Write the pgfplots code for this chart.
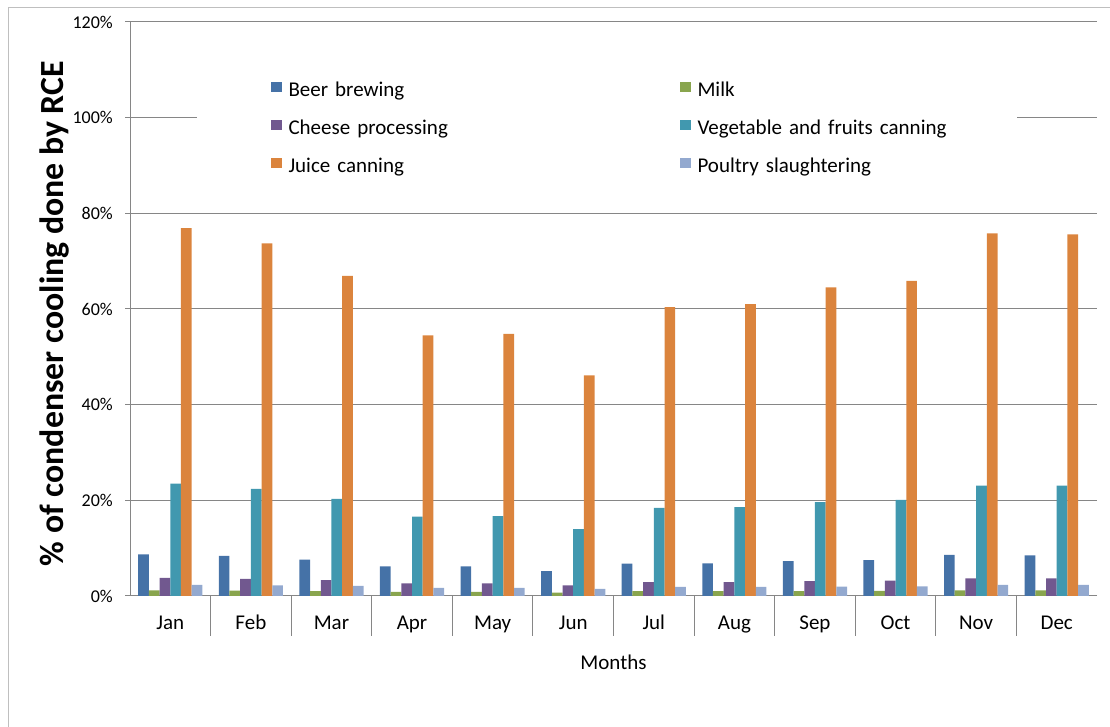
\documentclass[border=0pt]{standalone}
\usepackage{fontspec}
\setmainfont{Carlito}
\usepackage{pgfplots}
\pgfplotsset{compat=1.18}
\usepackage{pgfplotstable}

\definecolor{beer}{HTML}{4572A7}
\definecolor{milk}{HTML}{89A54E}
\definecolor{cheese}{HTML}{71588F}
\definecolor{veg}{HTML}{4198AF}
\definecolor{juice}{HTML}{DB843D}
\definecolor{poultry}{HTML}{93A9CF}
\definecolor{axgray}{HTML}{868686}
\definecolor{framegray}{HTML}{BFBFBF}

% Share of condenser cooling covered by RCE, in percent, per month (0 = Jan)
\pgfplotstableread{
m  beer  milk  cheese veg   juice poultry
0  8.7   1.15  3.8    23.5  76.9  2.3
1  8.4   1.1   3.6    22.4  73.7  2.2
2  7.6   1.0   3.3    20.3  66.9  2.1
3  6.2   0.85  2.65   16.6  54.5  1.7
4  6.2   0.85  2.65   16.7  54.8  1.7
5  5.2   0.7   2.2    14.0  46.1  1.5
6  6.75  1.0   2.9    18.4  60.4  1.9
7  6.8   1.0   2.9    18.6  61.0  1.9
8  7.3   1.0   3.1    19.65 64.5  1.95
9  7.5   1.05  3.2    20.1  65.9  2.0
10 8.6   1.15  3.7    23.1  75.8  2.3
11 8.5   1.15  3.7    23.1  75.6  2.3
}\rce

\pgfplotsset{
  sq legend/.style={legend image code/.code={\fill[##1] (0pt,-0.5pt) rectangle (11pt,10pt);}},
}

\begin{document}
\begin{tikzpicture}[x=1pt,y=1pt]
\useasboundingbox (0,0) rectangle (1110,727);
\draw[framegray, line width=1pt] (8,-2) -- (8,719) -- (1112,719);
\begin{axis}[
  at={(130pt,131pt)}, anchor=south west,
  scale only axis, width=967pt, height=574pt,
  xmin=-0.5, xmax=11.5, ymin=0, ymax=120,
  axis x line*=bottom, axis y line*=left,
  axis line style={axgray, line width=1pt},
  ybar=0pt, bar width=10.7pt,
  ytick={0,20,...,120},
  yticklabel={\pgfmathprintnumber{\tick}\%},
  /pgf/number format/assume math mode=true,
  yticklabel style={font=\fontsize{18}{22}\selectfont, inner xsep=0pt, xshift=-12pt},
  ymajorgrids, grid style={axgray, line width=1pt},
  tick align=outside, major tick length=5pt, minor tick length=40pt,
  tick style={axgray, line width=1pt},
  xtick={0,...,11},
  xticklabels={Jan,Feb,Mar,Apr,May,Jun,Jul,Aug,Sep,Oct,Nov,Dec},
  major x tick style={draw=none},
  minor x tick num=1,
  xticklabel style={font=\fontsize{21}{25}\selectfont, anchor=base, yshift=-29pt},
  xlabel={Months},
  every axis x label/.style={at={(axis description cs:0.5,-0.1272)}, anchor=base,
    font=\fontsize{21}{25}\selectfont},
  ylabel={\% of condenser cooling done by RCE},
  every axis y label/.style={at={(axis description cs:-0.0785,0.492)}, rotate=90,
    anchor=center, font=\fontsize{33.8}{40}\selectfont\bfseries},
  legend columns=2,
  legend style={
    at={(axis cs:0.3315,111.7)}, anchor=north west,
    draw=none, fill=white, inner xsep=74pt, inner ysep=20pt,
    font=\fontsize{21}{25}\selectfont,
    nodes={inner sep=0pt, text height=15pt, text depth=5pt},
    row sep=18pt,
    /tikz/column 1/.style={column sep=6.3pt},
    /tikz/column 2/.style={column sep=0pt, text width=391.7pt, align=left},
    /tikz/column 3/.style={column sep=6.3pt},
    /tikz/column 4/.style={text width=245pt, align=left},
  },
]
\addplot[fill=beer, draw=none, sq legend] table[x=m,y=beer]{\rce};
\addlegendentry{Beer brewing}
\addplot[fill=milk, draw=none, sq legend] table[x=m,y=milk]{\rce};
\addlegendentry{Milk}
\addplot[fill=cheese, draw=none, sq legend] table[x=m,y=cheese]{\rce};
\addlegendentry{Cheese processing}
\addplot[fill=veg, draw=none, sq legend] table[x=m,y=veg]{\rce};
\addlegendentry{\mbox{Vegetable and fruits canning}}
\addplot[fill=juice, draw=none, sq legend] table[x=m,y=juice]{\rce};
\addlegendentry{Juice canning}
\addplot[fill=poultry, draw=none, sq legend] table[x=m,y=poultry]{\rce};
\addlegendentry{Poultry slaughtering}
% outer category dividers reaching below the axis title row
\draw[axgray, line width=1pt] (rel axis cs:0,0) -- ++(0,-81pt);
\draw[axgray, line width=1pt] (rel axis cs:1,0) -- ++(0,-81pt);
\end{axis}
\end{tikzpicture}
\end{document}
